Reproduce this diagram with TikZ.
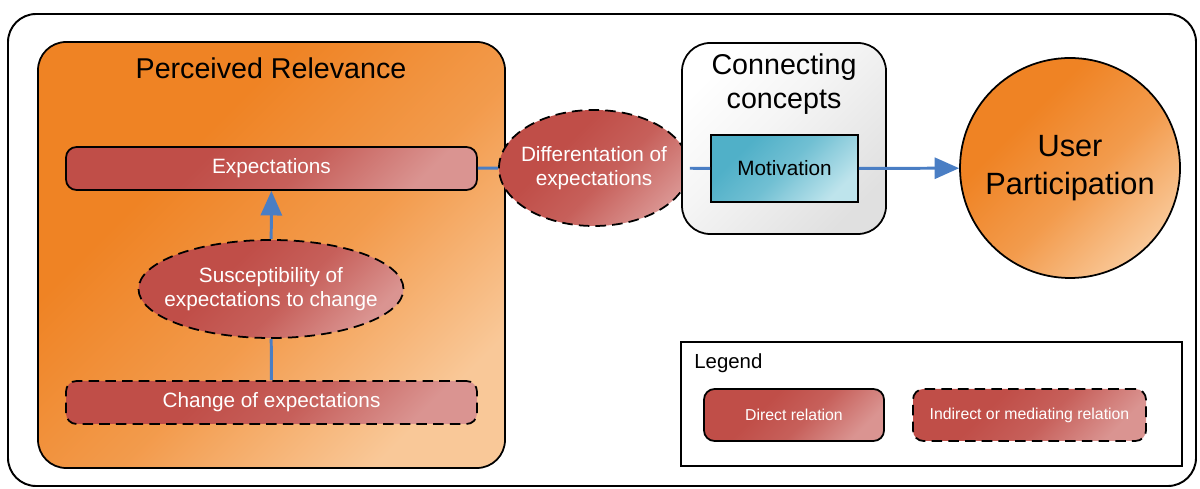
\documentclass[tikz,border=0pt]{standalone}
\usepackage{fontspec}
\setmainfont{Liberation Sans}
\usetikzlibrary{arrows.meta,positioning,calc,shapes.geometric}
\definecolor{relorange}{RGB}{239,131,36}
\definecolor{relorangelt}{RGB}{249,200,152}
\definecolor{relred}{RGB}{192,78,72}
\definecolor{relredlt}{RGB}{218,148,145}
\definecolor{motcyan}{RGB}{80,176,200}
\definecolor{motcyanlt}{RGB}{190,228,236}
\definecolor{linkblue}{RGB}{74,126,196}
\pgfdeclareverticalshading{redfade}{100bp}{color(0bp)=(relredlt); color(25bp)=(relredlt);
 color(45bp)=(relred!75!relredlt); color(62bp)=(relred); color(100bp)=(relred)}
\pgfdeclareverticalshading{orangefade}{100bp}{color(0bp)=(relorangelt); color(25bp)=(relorangelt);
 color(45bp)=(relorange!65!relorangelt); color(65bp)=(relorange); color(100bp)=(relorange)}
\pgfdeclareverticalshading{cyanfade}{100bp}{color(0bp)=(motcyanlt); color(25bp)=(motcyanlt);
 color(50bp)=(motcyan!70!motcyanlt); color(70bp)=(motcyan); color(100bp)=(motcyan)}
\pgfdeclareverticalshading{greyfade}{100bp}{color(0bp)=(black!12); color(25bp)=(black!12);
 color(55bp)=(black!4); color(75bp)=(white); color(100bp)=(white)}
\begin{document}
\begin{tikzpicture}[>={Triangle[length=14pt,width=12pt]},
 every node/.style={font=\fontsize{11.8}{14}\selectfont},
 redfill/.style={draw=black,line width=1pt,shading=redfade,shading angle=45,text=white},
 redbar/.style={redfill,rounded corners=6pt,minimum height=.86cm},
 redoval/.style={redfill,ellipse,inner sep=0pt,dashed rel},
 ovaltext/.style={text=white,align=center},
 dashed rel/.style={dash pattern=on 6pt off 3.5pt},
 link/.style={linkblue,line width=1.7pt},
 bigtitle/.style={font=\fontsize{16.3}{19.5}\selectfont,align=center}]
\useasboundingbox (0,0) rectangle (24,9.76);
\draw[line width=1.1pt,rounded corners=16pt] (.16,.04) rectangle (23.92,9.48);
% perceived relevance
\node[draw=black,line width=1pt,rounded corners=16pt,shading=orangefade,shading angle=45,
 minimum width=9.34cm,minimum height=8.52cm] (prbox) at (5.43,4.66) {};
\node[bigtitle] (prtitle) at (5.42,8.4) {Perceived Relevance};
\node[redbar,minimum width=8.22cm] (expect) at (5.43,6.39) {Expectations};
\node[redoval,minimum width=5.3cm,minimum height=1.96cm] (suscept) at (5.42,3.98) {};
\node[ovaltext] at (suscept) {Susceptibility of\\expectations to change};
\node[redbar,dashed rel,minimum width=8.22cm] (change) at (5.43,1.71) {Change of expectations};
\draw[link] (change)--(suscept);
\draw[link,->] (suscept)--(expect);
% mediating concept
\node[redoval,minimum width=3.8cm,minimum height=2.32cm] (diff) at (11.88,6.4) {};
\node[ovaltext] at (diff) {Differentation of\\expectations};
% connecting concepts
\node[draw=black,line width=1pt,rounded corners=16pt,shading=greyfade,shading angle=45,
 minimum width=4.08cm,minimum height=3.82cm] (conbox) at (15.68,6.99) {};
\node[bigtitle] (contitle) at (15.68,8.08) {Connecting\\concepts};
\node[draw=black,line width=1pt,shading=cyanfade,shading angle=45,
 minimum width=2.94cm,minimum height=1.34cm] (motiv) at (15.69,6.39) {Motivation};
% outcome
\node[draw=black,line width=1pt,circle,shading=orangefade,shading angle=45,
 minimum size=4.4cm,align=center,font=\fontsize{17.5}{21.5}\selectfont] (user) at (21.4,6.4) {User\\Participation};
\draw[link] (expect)--(diff);
\draw[link] (diff)--(motiv);
\draw[link,->] (motiv)--(user);
% legend
\node[draw=black,line width=1pt,minimum width=10.02cm,minimum height=2.48cm] (legbox) at (18.63,1.68) {};
\node[anchor=west,inner sep=0pt,font=\fontsize{11.6}{14}\selectfont] (legtitle) at (13.88,2.5) {Legend};
\node[redbar,minimum width=3.6cm,minimum height=1.04cm,font=\fontsize{9}{11}\selectfont] (legdirect) at (15.88,1.46) {Direct relation};
\node[redbar,dashed rel,minimum width=4.66cm,minimum height=1.04cm,font=\fontsize{9}{11}\selectfont] (legindirect) at (20.59,1.46)
 {Indirect or mediating relation};
\end{tikzpicture}
\end{document}
